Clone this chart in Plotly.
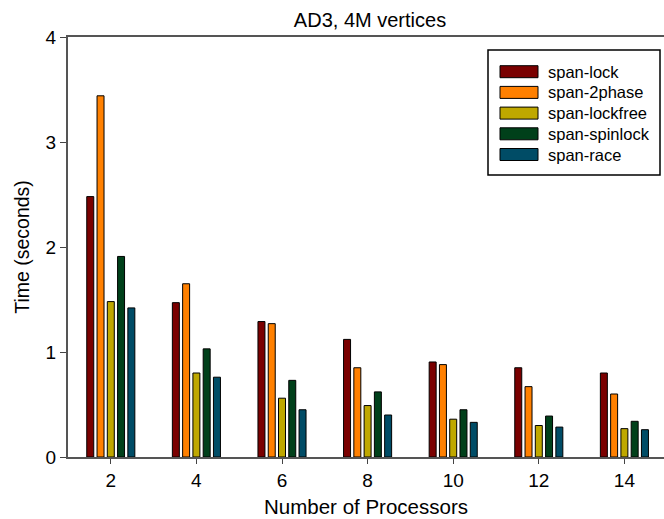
import plotly.graph_objects as go

processors = [2, 4, 6, 8, 10, 12, 14]
series_names = ["span-lock", "span-2phase", "span-lockfree", "span-spinlock", "span-race"]
span_lock = [2.48, 1.47, 1.29, 1.12, 0.905, 0.85, 0.80]
span_2phase = [3.44, 1.65, 1.27, 0.85, 0.88, 0.67, 0.60]
span_lockfree = [1.48, 0.80, 0.56, 0.49, 0.36, 0.30, 0.27]
span_spinlock = [1.91, 1.03, 0.73, 0.62, 0.45, 0.39, 0.34]
span_race = [1.42, 0.76, 0.45, 0.40, 0.33, 0.285, 0.26]
y_ticks = [0, 1, 2, 3, 4]

series_values = [span_lock, span_2phase, span_lockfree, span_spinlock, span_race]
colors = ["#7a0000", "#ff8000", "#bfa800", "#00401a", "#004c66"]

W, H = 664, 519
L, R, T, B = 68, 0, 37, 62
pw, ph = W - L - R, H - T - B

fig = go.Figure()
for name, vals, c in zip(series_names, series_values, colors):
    fig.add_trace(go.Bar(x=processors, y=vals, name=name,
                         marker=dict(color=c, line=dict(color="black", width=1)),
                         showlegend=False))

font = "Liberation Sans, Arial, Helvetica, sans-serif"
fig.update_layout(
    width=W, height=H,
    margin=dict(l=L, r=R, t=T, b=B),
    paper_bgcolor="white", plot_bgcolor="white",
    barmode="group", bargap=0.4, bargroupgap=0.32,
    font=dict(family=font, color="black", size=19),
    title=dict(text="AD3, 4M vertices", x=370 / W, xanchor="center",
               y=1 - 20 / H, yanchor="middle", font=dict(size=20)),
)
fig.update_xaxes(range=[1, 1 + pw / 42.8], tickvals=processors, ticks="outside", ticklen=5,
                 tickcolor="#444", showline=True, linecolor="#555", linewidth=2, mirror=True,
                 showgrid=False, zeroline=False,
                 title=dict(text="Number of Processors", font=dict(size=20.5), standoff=10),
                 tickfont=dict(size=19))
fig.update_yaxes(range=[0, 4], tickvals=y_ticks, ticks="outside", ticklen=6,
                 tickcolor="#444", showline=True, linecolor="#555", linewidth=2,
                 showgrid=False, zeroline=False,
                 title=dict(text="Time (seconds)", font=dict(size=19.5), standoff=11),
                 tickfont=dict(size=19))

def px2x(px):
    return (px - L) / pw

def px2y(py):
    return (H - B - py) / ph

# legend box
fig.add_shape(type="rect", xref="paper", yref="paper",
              x0=px2x(488), x1=px2x(660), y0=px2y(175), y1=px2y(50),
              line=dict(color="black", width=1.5), fillcolor="white")
for i, (name, c) in enumerate(zip(series_names, colors)):
    cy = 71.7 + i * 20.7
    fig.add_shape(type="rect", xref="paper", yref="paper",
                  x0=px2x(500), x1=px2x(538), y0=px2y(cy + 6), y1=px2y(cy - 6),
                  line=dict(color="black", width=1), fillcolor=c)
    fig.add_annotation(xref="paper", yref="paper", x=px2x(546), y=px2y(cy),
                       text=name, showarrow=False, xanchor="left", yanchor="middle",
                       font=dict(size=16.5, family=font, color="black"))

fig.write_html("out.html")
